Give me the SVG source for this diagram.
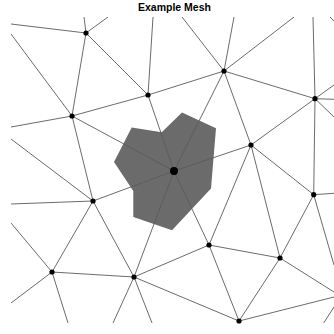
<svg xmlns="http://www.w3.org/2000/svg" width="334" height="334" viewBox="0 0 334 334">
<style>
.edge{stroke:#5a5a5a;stroke-width:0.9;fill:none}
.node{fill:#000}
.title{font-family:"Liberation Sans",Arial,sans-serif;font-weight:bold;font-size:10.5px;fill:#000}
</style>
<defs>
<clipPath id="meshclip"><rect x="11" y="17" width="330" height="306"/></clipPath>
</defs>
<rect width="334" height="334" fill="#fff"/>
<text class="title" x="174.5" y="10.5" text-anchor="middle">Example Mesh</text>
<g id="cell">
<polygon points="182,112.5 216,128.3 211,188.5 172,230.3 133.3,217 133.3,191 114,162 131.7,127.5 161.7,132.3" fill="#6b6b6b"/>
</g>
<g id="connectors" class="edge" clip-path="url(#meshclip)">
<line x1="86" y1="33" x2="11" y2="24"/>
<line x1="86" y1="33" x2="84" y2="17"/>
<line x1="86" y1="33" x2="108" y2="17"/>
<line x1="86" y1="33" x2="148" y2="95"/>
<line x1="86" y1="33" x2="72" y2="116"/>
<line x1="11" y1="34" x2="72" y2="116"/>
<line x1="11" y1="127" x2="72" y2="116"/>
<line x1="11" y1="139" x2="93" y2="201"/>
<line x1="11" y1="204" x2="93" y2="201"/>
<line x1="11" y1="223" x2="52" y2="272"/>
<line x1="11" y1="303" x2="52" y2="272"/>
<line x1="148" y1="95" x2="153" y2="17"/>
<line x1="148" y1="95" x2="72" y2="116"/>
<line x1="148" y1="95" x2="224" y2="71"/>
<line x1="148" y1="95" x2="174" y2="171"/>
<line x1="72" y1="116" x2="174" y2="171"/>
<line x1="72" y1="116" x2="93" y2="201"/>
<line x1="182" y1="17" x2="224" y2="71"/>
<line x1="234" y1="17" x2="224" y2="71"/>
<line x1="294" y1="17" x2="224" y2="71"/>
<line x1="224" y1="71" x2="315" y2="98.7"/>
<line x1="224" y1="71" x2="251" y2="145"/>
<line x1="224" y1="71" x2="174" y2="171"/>
<line x1="313" y1="17" x2="315" y2="98.7"/>
<line x1="315" y1="98.7" x2="334" y2="85"/>
<line x1="315" y1="98.7" x2="334" y2="99.3"/>
<line x1="315" y1="98.7" x2="334" y2="117"/>
<line x1="330" y1="17" x2="340" y2="27"/>
<line x1="315" y1="98.7" x2="251" y2="145"/>
<line x1="315" y1="98.7" x2="313.7" y2="194.7"/>
<line x1="251" y1="145" x2="174" y2="171"/>
<line x1="251" y1="145" x2="313.7" y2="194.7"/>
<line x1="251" y1="145" x2="209" y2="245"/>
<line x1="251" y1="145" x2="280" y2="258"/>
<line x1="174" y1="171" x2="93" y2="201"/>
<line x1="174" y1="171" x2="134" y2="277"/>
<line x1="174" y1="171" x2="209" y2="245"/>
<line x1="93" y1="201" x2="52" y2="272"/>
<line x1="93" y1="201" x2="134" y2="277"/>
<line x1="52" y1="272" x2="134" y2="277"/>
<line x1="52" y1="272" x2="68" y2="323"/>
<line x1="134" y1="277" x2="113" y2="323"/>
<line x1="134" y1="277" x2="152" y2="323"/>
<line x1="134" y1="277" x2="209" y2="245"/>
<line x1="134" y1="277" x2="239" y2="321"/>
<line x1="313.7" y1="194.7" x2="334" y2="193.3"/>
<line x1="313.7" y1="194.7" x2="280" y2="258"/>
<line x1="313.7" y1="194.7" x2="334" y2="265"/>
<line x1="209" y1="245" x2="280" y2="258"/>
<line x1="209" y1="245" x2="239" y2="321"/>
<line x1="280" y1="258" x2="239" y2="321"/>
<line x1="280" y1="258" x2="334" y2="292"/>
<line x1="239" y1="321" x2="334" y2="297"/>
<line x1="323.7" y1="323" x2="334" y2="307"/>
</g>
<g id="nA"><circle class="node" cx="86" cy="33" r="2.6"/></g>
<g id="nB"><circle class="node" cx="148" cy="95" r="2.6"/></g>
<g id="nC"><circle class="node" cx="72" cy="116" r="2.6"/></g>
<g id="nD"><circle class="node" cx="224" cy="71" r="2.6"/></g>
<g id="nE"><circle class="node" cx="315" cy="98.7" r="2.6"/></g>
<g id="nF"><circle class="node" cx="251" cy="145" r="2.6"/></g>
<g id="nG"><circle class="node" cx="174" cy="171" r="4"/></g>
<g id="nH"><circle class="node" cx="93" cy="201" r="2.6"/></g>
<g id="nI"><circle class="node" cx="52" cy="272" r="2.6"/></g>
<g id="nJ"><circle class="node" cx="134" cy="277" r="2.6"/></g>
<g id="nK"><circle class="node" cx="313.7" cy="194.7" r="2.6"/></g>
<g id="nL"><circle class="node" cx="209" cy="245" r="2.6"/></g>
<g id="nM"><circle class="node" cx="280" cy="258" r="2.6"/></g>
<g id="nN"><circle class="node" cx="239" cy="321" r="2.6"/></g>
</svg>
